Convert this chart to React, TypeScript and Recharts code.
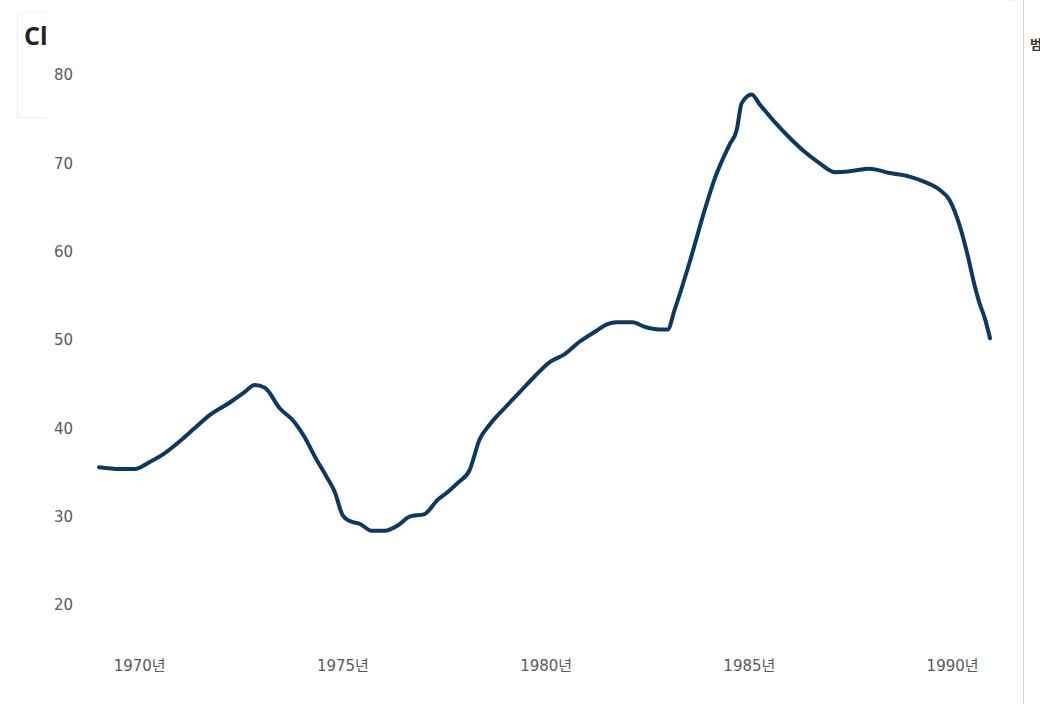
import { LineChart, Line, XAxis, YAxis } from 'recharts';

// fractional year of each reading
const times = [
  1969.0, 1969.51, 1969.88, 1970.25, 1970.62, 1970.98, 1971.35, 1971.72, 1972.21, 1972.58,
  1972.83, 1973.08, 1973.44, 1973.81, 1974.06, 1974.31, 1974.6, 1974.8, 1974.99, 1975.17,
  1975.41, 1975.71, 1976.03, 1976.35, 1976.64, 1977.01, 1977.33, 1977.58, 1977.82, 1978.12,
  1978.36, 1978.61, 1978.98, 1979.35, 1979.72, 1980.09, 1980.46, 1980.82, 1981.19, 1981.51,
  1981.73, 1982.13, 1982.42, 1982.79, 1982.99, 1983.16, 1983.53, 1983.9, 1984.15, 1984.51,
  1984.69, 1984.81, 1985.06, 1985.25, 1985.62, 1985.99, 1986.36, 1986.73, 1987.1, 1987.47,
  1987.96, 1988.45, 1988.94, 1989.31, 1989.68, 1989.93, 1990.17, 1990.37, 1990.54, 1990.66,
  1990.79, 1990.92,
];

const values = [
  35.6, 35.4, 35.4, 36.2, 37.2, 38.5, 40.0, 41.5, 42.9, 44.1,
  44.9, 44.6, 42.3, 40.7, 39.0, 36.8, 34.5, 32.8, 30.2, 29.5,
  29.2, 28.4, 28.4, 29.0, 30.0, 30.3, 31.9, 32.8, 33.8, 35.3,
  38.7, 40.4, 42.3, 44.1, 45.9, 47.5, 48.4, 49.8, 50.9, 51.8,
  52.0, 52.0, 51.5, 51.2, 51.2, 53.4, 58.8, 64.7, 68.3, 72.1,
  73.8, 76.8, 77.8, 76.7, 74.7, 72.9, 71.3, 70.0, 69.0, 69.1,
  69.4, 68.9, 68.5, 67.9, 67.0, 65.8, 63.0, 59.6, 56.2, 54.2,
  52.5, 50.2,
];

const yearTicks = [1970, 1975, 1980, 1985, 1990];
const valueTicks = [20, 30, 40, 50, 60, 70, 80];

const data = times.map((t, i) => ({ t, value: values[i] }));

const FONT = '"DejaVu Sans", "Noto Sans CJK KR", sans-serif';

export default function App() {
  return (
    <div
      style={{
        position: 'absolute',
        left: 0,
        top: 0,
        width: 1040,
        height: 704,
        background: '#fff',
        overflow: 'hidden',
        fontFamily: FONT,
      }}
    >
      {/* clipped title card */}
      <div
        style={{
          position: 'absolute',
          left: 17,
          top: 12,
          width: 28,
          height: 104,
          borderLeft: '1px solid #eee',
          borderBottom: '1px solid #eee',
          borderTop: '1px solid #f4f4f4',
          overflow: 'hidden',
          whiteSpace: 'nowrap',
        }}
      >
        <div
          style={{
            position: 'absolute',
            left: 6,
            top: 5,
            fontSize: 25,
            fontWeight: 700,
            color: '#222',
            fontFamily: '"Open Sans", sans-serif',
          }}
        >
          Cl
        </div>
      </div>

      <LineChart
        width={1040}
        height={704}
        data={data}
        margin={{ top: 75, right: 50, bottom: 69, left: 0 }}
        style={{ position: 'absolute', left: 0, top: 0 }}
      >
        <XAxis
          dataKey="t"
          type="number"
          domain={[1969, 1990.917]}
          ticks={yearTicks}
          tickFormatter={(v) => `${v}년`}
          axisLine={false}
          tickLine={false}
          tickSize={0}
          tickMargin={55}
          height={30}
          tick={{ fill: '#5a5a5a', fontSize: 15, fontFamily: FONT }}
        />
        <YAxis
          type="number"
          domain={[20, 80]}
          ticks={valueTicks}
          axisLine={false}
          tickLine={false}
          tickSize={0}
          tickMargin={26}
          width={99}
          tick={{ fill: '#5a5a5a', fontSize: 15, fontFamily: FONT }}
        />
        <Line
          type="monotone"
          dataKey="value"
          stroke="#0c3861"
          strokeWidth={4}
          dot={false}
          strokeLinecap="round"
          strokeLinejoin="round"
          isAnimationActive={false}
        />
      </LineChart>

      {/* right-hand panel edge */}
      <div
        style={{
          position: 'absolute',
          left: 1023,
          top: 0,
          width: 1,
          height: 704,
          background: '#d6d6d6',
        }}
      />
      <div
        style={{
          position: 'absolute',
          left: 1008,
          top: -6,
          fontSize: 10,
          color: '#777',
        }}
      >
        ···
      </div>
      <div
        style={{
          position: 'absolute',
          left: 1030,
          top: 34,
          fontSize: 13,
          fontWeight: 700,
          color: '#333',
          fontFamily: '"Noto Sans CJK KR", sans-serif',
          whiteSpace: 'nowrap',
        }}
      >
        범례
      </div>
    </div>
  );
}
